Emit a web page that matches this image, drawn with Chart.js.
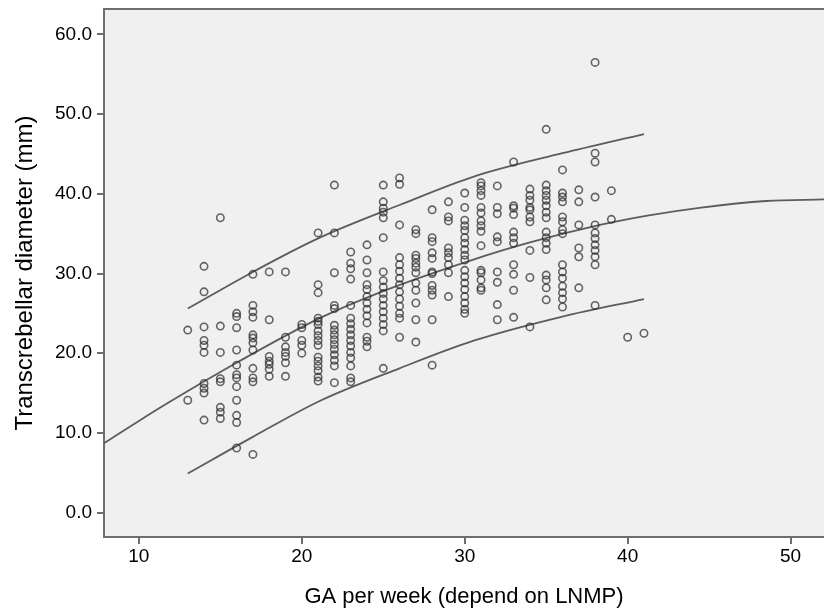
<!DOCTYPE html>
<html>
<head>
<meta charset="utf-8">
<title>Transcerebellar diameter by gestational age</title>
<script src="https://cdn.jsdelivr.net/npm/chart.js@4.4.1/dist/chart.umd.min.js"></script>
<style>
    html, body { margin: 0; padding: 0; background: #fff; }
    #wrap { width: 824px; height: 611px; }
</style>
</head>
<body>
<div id="wrap"><canvas id="tcdChart" width="824" height="611"></canvas></div>
<script>
// gestational weeks that have measurements
const weeks = [13, 14, 15, 16, 17, 18, 19, 20, 21, 22, 23, 24, 25, 26, 27,
               28, 29, 30, 31, 32, 33, 34, 35, 36, 37, 38, 39, 40, 41];

// transcerebellar diameter (mm), one list per week above
const tcd = [
    [22.9, 14.1],
    [30.9, 27.7, 23.3, 21.6, 21.0, 20.1, 16.2, 15.6, 15.0, 11.6],
    [37.0, 23.4, 20.1, 16.8, 16.4, 13.2, 12.6, 11.8],
    [25.0, 24.6, 23.2, 20.4, 18.5, 17.3, 16.9, 15.8, 14.1, 12.2, 11.3, 8.1],
    [29.9, 26.0, 25.2, 24.5, 22.3, 21.9, 21.3, 20.4, 18.1, 16.9, 16.4, 7.3],
    [30.2, 24.2, 19.6, 19.0, 18.6, 18.0, 17.1],
    [30.2, 22.0, 20.8, 20.1, 19.6, 18.8, 17.1],
    [23.6, 23.2, 21.6, 21.0, 20.0],
    [35.1, 28.6, 27.6, 24.4, 24.0, 23.6, 22.8, 22.2, 21.6, 21.0, 19.5, 19.0, 18.4, 17.8, 17.0, 16.5],
    [41.1, 35.1, 30.1, 26.0, 25.6, 23.5, 22.9, 22.3, 21.7, 21.1, 20.5, 19.8, 19.1, 18.4, 16.3],
    [32.7, 31.3, 30.6, 29.3, 26.0, 24.4, 23.7, 23.0, 22.3, 21.6, 20.9, 20.1, 19.4, 18.4, 16.9, 16.4],
    [33.6, 31.7, 30.1, 28.6, 28.0, 27.1, 26.3, 25.5, 24.7, 23.8, 22.0, 21.5, 20.8],
    [41.1, 39.0, 38.2, 37.7, 37.0, 34.5, 30.2, 29.1, 28.3, 27.5, 26.8, 26.0, 25.2, 24.4, 23.6, 22.8, 18.1],
    [42.0, 41.2, 36.1, 32.0, 31.1, 30.3, 29.4, 28.6, 27.7, 26.8, 25.9, 25.0, 24.4, 22.0],
    [35.5, 35.0, 32.3, 31.9, 31.3, 30.8, 30.1, 28.8, 27.9, 26.3, 24.2, 21.4],
    [38.0, 34.5, 34.0, 32.6, 31.9, 30.2, 30.0, 28.5, 27.9, 27.3, 24.2, 18.5],
    [39.0, 37.1, 36.6, 33.2, 32.6, 32.0, 31.1, 30.1, 27.1],
    [40.1, 38.3, 36.7, 36.0, 35.4, 34.5, 33.8, 33.0, 32.3, 31.7, 30.4, 29.6, 28.8, 28.0, 27.1, 26.3, 25.5, 25.0],
    [41.4, 41.0, 40.4, 39.8, 38.3, 37.6, 36.6, 36.0, 35.3, 33.5, 30.4, 30.1, 29.2, 28.2, 27.9],
    [41.0, 38.3, 37.5, 34.6, 34.0, 30.2, 28.9, 26.1, 24.2],
    [44.0, 38.5, 38.2, 37.4, 35.2, 34.5, 33.8, 31.1, 29.9, 27.9, 24.5],
    [40.6, 39.8, 39.2, 38.3, 38.0, 37.1, 36.5, 32.9, 29.5, 23.3],
    [48.1, 41.1, 40.4, 39.8, 39.2, 38.5, 37.7, 37.0, 35.2, 34.5, 33.8, 33.0, 29.8, 29.2, 28.2, 26.7],
    [43.0, 40.1, 39.6, 39.0, 37.1, 36.5, 35.5, 35.0, 31.1, 30.2, 29.4, 28.4, 27.6, 26.8, 25.8],
    [40.5, 39.0, 36.1, 33.2, 32.1, 28.2],
    [56.5, 45.1, 44.0, 39.6, 36.1, 35.1, 34.4, 33.6, 32.9, 32.1, 31.1, 26.0],
    [40.4, 36.8],
    [22.0],
    [22.5]
];

// fitted curve
const fitX = [7.86, 10, 11.9, 16, 21.1, 25, 30.3, 34, 38.3, 41.3, 44.4, 48.5, 52.05];
const fitY = [8.7, 11.5, 13.9, 18.8, 24.4, 27.8, 31.6, 33.9, 36.1, 37.3, 38.25, 39.1, 39.3];

// upper and lower limits
const bandX = [13, 17, 21.1, 26, 30.6, 36, 41];
const upperY = [25.6, 30.2, 34.5, 38.6, 42.2, 45.1, 47.5];
const lowerY = [4.9, 9.5, 14.0, 18.1, 21.6, 24.6, 26.8];

const xTicks = [10, 20, 30, 40, 50];
const yTicks = [0, 10, 20, 30, 40, 50, 60];

const fontFamily = '"Liberation Sans", Arial, Helvetica, sans-serif';
const axisColor = '#6e6e6e';

function toXY(xs, ys) {
    return xs.map((x, i) => ({ x: x, y: ys[i] }));
}

const points = [];
weeks.forEach((w, i) => {
    tcd[i].forEach(v => points.push({ x: w, y: v }));
});

function curve(data) {
    return {
        data: data,
        showLine: true,
        borderColor: '#5c5c5c',
        borderWidth: 1.8,
        pointRadius: 0,
        cubicInterpolationMode: 'monotone',
        fill: false,
        order: 1
    };
}

// grey plot background and the top edge of the frame
const plotFrame = {
    id: 'plotFrame',
    beforeDraw(chart) {
        const ctx = chart.ctx;
        const a = chart.chartArea;
        ctx.save();
        ctx.fillStyle = '#f0f0f0';
        ctx.fillRect(a.left, a.top, a.right - a.left, a.bottom - a.top);
        ctx.strokeStyle = axisColor;
        ctx.lineWidth = 2;
        ctx.beginPath();
        ctx.moveTo(a.left, a.top);
        ctx.lineTo(a.right, a.top);
        ctx.stroke();
        ctx.restore();
    }
};

const ctx = document.getElementById('tcdChart').getContext('2d');
new Chart(ctx, {
    type: 'scatter',
    data: {
        datasets: [
            {
                data: points,
                pointRadius: 3.7,
                pointBorderWidth: 1.6,
                pointBorderColor: 'rgba(45, 45, 45, 0.72)',
                pointBackgroundColor: 'rgba(0, 0, 0, 0)',
                order: 0
            },
            curve(toXY(fitX, fitY)),
            curve(toXY(bandX, upperY)),
            curve(toXY(bandX, lowerY))
        ]
    },
    options: {
        responsive: false,
        animation: false,
        devicePixelRatio: 1,
        layout: {
            autoPadding: false,
            padding: { top: 9, left: 0, right: 0, bottom: 0 }
        },
        plugins: {
            legend: { display: false },
            tooltip: { enabled: false }
        },
        scales: {
            x: {
                type: 'linear',
                position: 'bottom',
                min: 7.86,
                max: 52.05,
                afterBuildTicks: s => { s.ticks = xTicks.map(v => ({ value: v })); },
                afterFit: s => {
                    s.height = 74;
                    s.paddingLeft = 0;
                    s.paddingRight = 0;
                },
                ticks: {
                    color: '#000',
                    font: { family: fontFamily, size: 19 },
                    padding: 1,
                    maxRotation: 0,
                    callback: v => String(v)
                },
                grid: {
                    drawOnChartArea: false,
                    drawTicks: true,
                    tickLength: 7,
                    color: axisColor,
                    lineWidth: 2
                },
                border: { display: true, color: axisColor, width: 2 },
                title: {
                    display: true,
                    text: 'GA per week (depend on LNMP)',
                    color: '#000',
                    font: { family: fontFamily, size: 22 },
                    padding: { top: 0, bottom: 1 }
                }
            },
            y: {
                type: 'linear',
                position: 'left',
                min: -3.07,
                max: 63.2,
                afterBuildTicks: s => { s.ticks = yTicks.map(v => ({ value: v })); },
                afterFit: s => {
                    s.width = 104;
                    s.paddingTop = 0;
                    s.paddingBottom = 0;
                },
                ticks: {
                    color: '#000',
                    font: { family: fontFamily, size: 19 },
                    padding: 5,
                    callback: v => Number(v).toFixed(1)
                },
                grid: {
                    drawOnChartArea: false,
                    drawTicks: true,
                    tickLength: 7,
                    color: axisColor,
                    lineWidth: 2
                },
                border: { display: true, color: axisColor, width: 2 },
                title: {
                    display: true,
                    text: 'Transcrebellar diameter (mm)',
                    color: '#000',
                    font: { family: fontFamily, size: 24 },
                    padding: { top: 11, bottom: 0 }
                }
            }
        }
    },
    plugins: [plotFrame]
});
</script>
</body>
</html>
